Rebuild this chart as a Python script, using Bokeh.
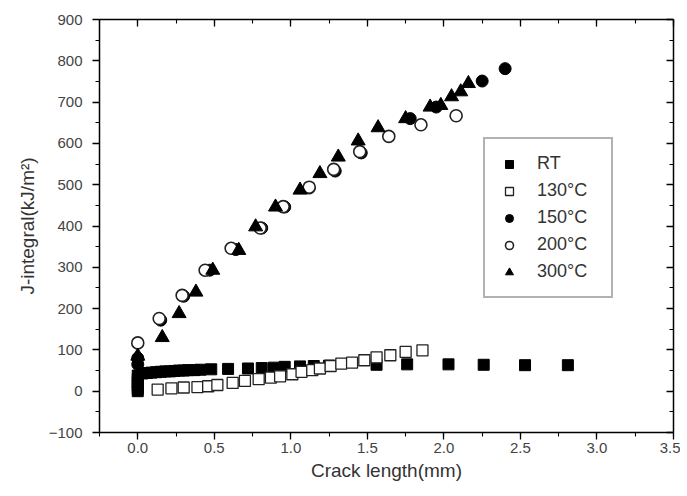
from bokeh.plotting import figure
from bokeh.models import (Range1d, LinearAxis, SingleIntervalTicker, Legend, LegendItem,
                          PrintfTickFormatter)
from bokeh.embed import file_html
from bokeh.resources import INLINE

# ---- data ----
rt_x = [0.0, 0.0, 0.0, 0.0, 0.0, 0.0, 0.03, 0.06, 0.09, 0.12, 0.15, 0.18, 0.21, 0.24, 0.27, 0.30,
        0.33, 0.37, 0.41, 0.48, 0.59, 0.72, 0.81, 0.89, 0.96, 1.06, 1.15, 1.25, 1.56, 1.76, 2.03,
        2.26, 2.53, 2.81]
rt_y = [0, 6, 14, 22, 30, 38, 43, 44, 45, 46, 47, 48, 48, 49, 50, 50,
        51, 51, 52, 53, 54, 55, 56, 57, 59, 60, 61, 62, 64, 65, 65,
        64, 63, 63]

t130_x = [0.13, 0.22, 0.30, 0.39, 0.46, 0.52, 0.62, 0.70, 0.79, 0.87, 0.93, 1.01, 1.07, 1.14,
          1.19, 1.26, 1.33, 1.40, 1.48, 1.56, 1.65, 1.75, 1.86]
t130_y = [4, 7, 9, 10, 12, 15, 20, 25, 29, 33, 36, 41, 47, 51,
          55, 61, 67, 69, 75, 82, 87, 95, 99]

t150_x = [0.0, 0.0, 0.15, 0.30, 0.47, 0.64, 0.81, 0.96, 1.12, 1.29, 1.46, 1.78, 1.95, 2.25, 2.40]
t150_y = [65, 80, 172, 230, 293, 343, 395, 446, 492, 533, 577, 660, 688, 751, 781]

t200_x = [0.0, 0.14, 0.29, 0.44, 0.61, 0.80, 0.95, 1.12, 1.28, 1.45, 1.64, 1.85, 2.08]
t200_y = [117, 176, 232, 293, 346, 395, 447, 494, 537, 580, 617, 645, 667]

t300_x = [0.0, 0.16, 0.27, 0.38, 0.49, 0.66, 0.77, 0.90, 1.06, 1.19, 1.31, 1.44, 1.57, 1.75,
          1.91, 1.98, 2.05, 2.11, 2.16]
t300_y = [85, 130, 188, 240, 293, 341, 398, 446, 487, 527, 567, 606, 638, 660,
          688, 692, 713, 725, 745]

labels = ["RT", "130°C", "150°C", "200°C", "300°C"]
x_label = "Crack length(mm)"
y_label = "J-integral(kJ/m²)"

FONT = "Liberation Sans"

p = figure(width=680, height=490, output_backend="svg", toolbar_location=None,
           x_range=Range1d(-0.25, 3.5), y_range=Range1d(-100, 900),
           x_axis_type=None, y_axis_type=None)
p.min_border_left = 99
p.min_border_right = 7
p.min_border_top = 19
p.min_border_bottom = 58
p.outline_line_color = None
p.xgrid.visible = False
p.ygrid.visible = False
p.background_fill_color = "white"
p.border_fill_color = "white"


def make_axis(kind, show_labels, ticks_out):
    ticker = SingleIntervalTicker(interval=0.5 if kind == "x" else 100, num_minor_ticks=2)
    ax = LinearAxis(ticker=ticker)
    ax.axis_line_color = "black"
    ax.axis_line_width = 1.5
    ax.major_tick_line_color = "black"
    ax.minor_tick_line_color = "black"
    ax.major_tick_line_width = 1.3
    ax.minor_tick_line_width = 1.1
    if ticks_out:
        ax.major_tick_out = 7
        ax.major_tick_in = 0
        ax.minor_tick_out = 4
        ax.minor_tick_in = 0
    else:
        ax.major_tick_out = 0
        ax.major_tick_in = 7
        ax.minor_tick_out = 0
        ax.minor_tick_in = 4
    if show_labels:
        ax.major_label_text_font = FONT
        ax.major_label_text_font_size = "15px"
        ax.major_label_text_color = "#444444"
        ax.axis_label_text_font = FONT
        ax.axis_label_text_font_size = "19px"
        ax.axis_label_text_font_style = "normal"
        ax.axis_label_text_color = "#333333"
    else:
        ax.major_label_text_font_size = "1px"
        ax.major_label_text_color = None
        ax.major_label_standoff = 0
    return ax


bottom = make_axis("x", True, True)
bottom.formatter = PrintfTickFormatter(format="%.1f")
bottom.axis_label = x_label
bottom.major_label_standoff = 3
bottom.axis_label_standoff = 4
left = make_axis("y", True, True)
left.axis_label = y_label
left.major_label_standoff = 10
left.axis_label_standoff = 8
top = make_axis("x", False, False)
right = make_axis("y", False, False)

p.add_layout(bottom, "below")
p.add_layout(left, "left")
p.add_layout(top, "above")
p.add_layout(right, "right")

r_rt = p.scatter(rt_x, rt_y, marker="square", size=11, fill_color="black", line_color="black")
r_130 = p.scatter(t130_x, t130_y, marker="square", size=11, fill_color="white",
                  line_color="#222222", line_width=1.3)
r_150 = p.scatter(t150_x, t150_y, marker="circle", size=12, fill_color="black", line_color="black")
r_200 = p.scatter(t200_x, t200_y, marker="circle", size=12, fill_color="white",
                  line_color="#222222", line_width=1.6)
r_300 = p.scatter(t300_x, t300_y, marker="triangle", size=14, fill_color="black", line_color="black")

legend = Legend(items=[LegendItem(label=lab, renderers=[r]) for lab, r in
                       zip(labels, [r_rt, r_130, r_150, r_200, r_300])],
                location=(384, 134))
legend.label_text_font = FONT
legend.label_text_font_size = "18px"
legend.label_text_color = "#333333"
legend.glyph_width = 20
legend.glyph_height = 20
legend.label_height = 20
legend.label_width = 60
legend.label_standoff = 18
legend.spacing = 6
legend.padding = 14
legend.margin = 0
legend.border_line_color = "#666666"
legend.border_line_width = 2
legend.background_fill_color = "white"
legend.background_fill_alpha = 1.0
p.add_layout(legend)

open("out.html", "w").write(file_html(p, INLINE))
